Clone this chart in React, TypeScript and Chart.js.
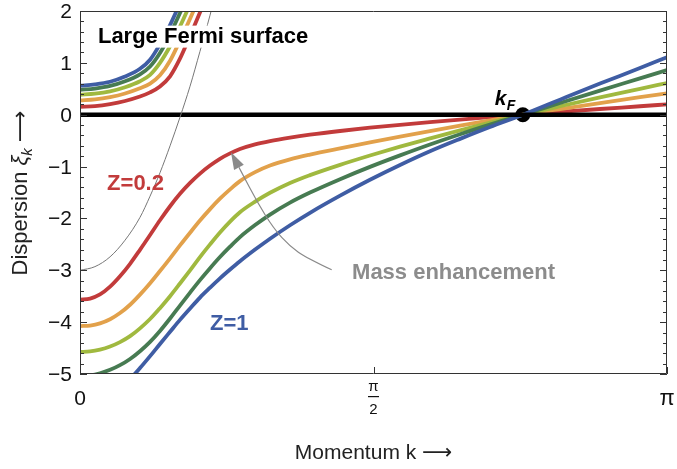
import React, { useEffect, useRef } from 'react';
import { Chart, registerables } from 'chart.js';

Chart.register(...registerables);

const PI = Math.PI;
const FONT = '"Liberation Sans", Arial, "DejaVu Sans", sans-serif';

// ---- data (k in radians) ----
const lowerK = [0, 0.054, 0.107, 0.161, 0.214, 0.268, 0.321, 0.375, 0.428, 0.482, 0.535, 0.589, 0.642, 0.696, 0.749, 0.803, 0.856, 0.937, 1.017, 1.124, 1.231, 1.392, 1.552, 1.713, 1.873, 2.034, 2.194, 2.371, 2.569, 2.783, 2.997, 3.1416];
const lowerZ02 = [-3.565, -3.545, -3.465, -3.315, -3.115, -2.875, -2.605, -2.32, -2.035, -1.765, -1.525, -1.315, -1.135, -0.98, -0.85, -0.745, -0.662, -0.572, -0.508, -0.442, -0.386, -0.314, -0.251, -0.194, -0.141, -0.093, -0.048, 0, 0.054, 0.11, 0.163, 0.2];
const lowerZ04 = [-4.075, -4.065, -4.025, -3.945, -3.825, -3.665, -3.47, -3.25, -3.015, -2.77, -2.52, -2.275, -2.04, -1.82, -1.62, -1.44, -1.28, -1.107, -0.98, -0.86, -0.768, -0.648, -0.534, -0.423, -0.315, -0.21, -0.108, 0, 0.11, 0.225, 0.338, 0.413];
const lowerZ06 = [-4.575, -4.565, -4.53, -4.47, -4.385, -4.27, -4.12, -3.94, -3.73, -3.5, -3.255, -3.0, -2.745, -2.5, -2.27, -2.06, -1.88, -1.677, -1.505, -1.315, -1.165, -0.967, -0.787, -0.616, -0.457, -0.301, -0.154, 0, 0.163, 0.335, 0.5, 0.61];
const lowerZ08 = [-5.04, -5.025, -4.985, -4.92, -4.83, -4.71, -4.56, -4.38, -4.17, -3.93, -3.68, -3.43, -3.19, -2.96, -2.745, -2.545, -2.36, -2.128, -1.925, -1.695, -1.501, -1.243, -1.006, -0.784, -0.574, -0.376, -0.19, 0, 0.225, 0.465, 0.7, 0.86];
const lowerZ10 = [-5.596, -5.576, -5.516, -5.416, -5.276, -5.096, -4.886, -4.656, -4.421, -4.186, -3.956, -3.736, -3.526, -3.336, -3.156, -2.986, -2.826, -2.601, -2.391, -2.131, -1.891, -1.561, -1.255, -0.97, -0.706, -0.466, -0.238, 0, 0.29, 0.6, 0.9, 1.11];

const upperK = [0, 0.08, 0.161, 0.241, 0.321, 0.375, 0.428, 0.482, 0.535, 0.589, 0.642, 0.696];
const upperZ02 = [0.15, 0.165, 0.205, 0.265, 0.35, 0.43, 0.545, 0.74, 1.08, 1.52, 1.97, 2.45];
const upperZ04 = [0.275, 0.295, 0.34, 0.41, 0.51, 0.6, 0.76, 1.04, 1.43, 1.85, 2.3, 2.75];
const upperZ06 = [0.385, 0.405, 0.45, 0.53, 0.645, 0.77, 1.0, 1.32, 1.7, 2.13, 2.58, 3.05];
const upperZ08 = [0.48, 0.505, 0.555, 0.645, 0.78, 0.93, 1.19, 1.55, 1.96, 2.4, 2.86, 3.33];
const upperZ10 = [0.56, 0.585, 0.635, 0.735, 0.885, 1.06, 1.36, 1.73, 2.15, 2.6, 3.07, 3.55];

const bareK = [0, 0.08, 0.161, 0.241, 0.321, 0.375, 0.428, 0.482, 0.535, 0.589, 0.642, 0.696, 0.723];
const bareE = [-3.0, -2.93, -2.74, -2.42, -1.98, -1.57, -1.12, -0.6, -0.05, 0.55, 1.22, 1.92, 2.3];

const kF = 2.37;

const arrowK = [1.347, 1.213, 1.124, 1.035, 0.946, 0.872, 0.808];
const arrowY = [-2.99, -2.76, -2.54, -2.19, -1.67, -1.16, -0.725];

const yTicks = [-5, -4, -3, -2, -1, 0, 1, 2];
const xTickValues = [0, PI / 2, PI];

const COLORS = ['#C23B3B', '#E2A14B', '#A0B93F', '#477B52', '#3F5DA4'];
const lowerSeries = [lowerZ02, lowerZ04, lowerZ06, lowerZ08, lowerZ10];
const upperSeries = [upperZ02, upperZ04, upperZ06, upperZ08, upperZ10];

const labels = [
  { text: 'Large Fermi surface', k: 0.096, y: 1.39, color: '#000', box: true },
  { text: 'Z=0.2', k: 0.145, y: -1.46, color: COLORS[0], box: false },
  { text: 'Z=1', k: 0.696, y: -4.15, color: COLORS[4], box: false },
  { text: 'Mass enhancement', k: 1.456, y: -3.17, color: '#8c8c8c', box: false },
];

const pts = (ks: number[], ys: number[]) => ks.map((k, i) => ({ x: k, y: ys[i] }));

const overlay = {
  id: 'overlay',
  afterDraw(chart: any) {
    const ctx: CanvasRenderingContext2D = chart.ctx;
    const xs = chart.scales.x;
    const ys = chart.scales.y;
    const { left, right, top, bottom } = chart.chartArea;
    ctx.save();

    // arrow
    const ap = arrowK.map((k, i) => [xs.getPixelForValue(k), ys.getPixelForValue(arrowY[i])]);
    const tip = ap[ap.length - 1];
    const prev = ap[ap.length - 2];
    const ang = Math.atan2(tip[1] - prev[1], tip[0] - prev[0]);
    const hl = 17, hw = 5.5;
    const base = [tip[0] - hl * Math.cos(ang), tip[1] - hl * Math.sin(ang)];
    const path = [...ap.slice(0, -1), base];
    ctx.strokeStyle = '#8a8a8a';
    ctx.lineWidth = 1.2;
    ctx.beginPath();
    ctx.moveTo(path[0][0], path[0][1]);
    for (let i = 1; i < path.length - 1; i++) {
      const mx = (path[i][0] + path[i + 1][0]) / 2;
      const my = (path[i][1] + path[i + 1][1]) / 2;
      ctx.quadraticCurveTo(path[i][0], path[i][1], mx, my);
    }
    ctx.lineTo(base[0], base[1]);
    ctx.stroke();
    ctx.fillStyle = '#8a8a8a';
    ctx.beginPath();
    ctx.moveTo(tip[0], tip[1]);
    ctx.lineTo(base[0] + hw * Math.sin(ang), base[1] - hw * Math.cos(ang));
    ctx.lineTo(base[0] - hw * Math.sin(ang), base[1] + hw * Math.cos(ang));
    ctx.closePath();
    ctx.fill();

    // labels
    ctx.textBaseline = 'alphabetic';
    ctx.textAlign = 'left';
    ctx.font = 'bold 22px ' + FONT;
    for (const l of labels) {
      const lx = xs.getPixelForValue(l.k);
      const ly = ys.getPixelForValue(l.y);
      if (l.box) {
        const w = ctx.measureText(l.text).width;
        ctx.fillStyle = '#fff';
        ctx.fillRect(lx - 2, ly - 17, w + 4, 22);
      }
      ctx.fillStyle = l.color;
      ctx.fillText(l.text, lx, ly);
    }
    // k_F
    const kx = xs.getPixelForValue(kF);
    const ky = ys.getPixelForValue(0);
    ctx.fillStyle = '#000';
    ctx.font = 'italic bold 21px ' + FONT;
    ctx.fillText('k', kx - 28, ky - 10);
    ctx.font = 'italic bold 14px ' + FONT;
    ctx.fillText('F', kx - 16, ky - 5);

    // frame
    ctx.strokeStyle = '#333';
    ctx.lineWidth = 1;
    ctx.beginPath();
    ctx.rect(left + 0.5, top + 0.5, right - left - 1, bottom - top - 1);
    ctx.stroke();
    // ticks
    ctx.beginPath();
    for (let i = -25; i <= 10; i++) {
      const v = i / 5;
      const py = Math.round(ys.getPixelForValue(v)) + 0.5;
      const len = i % 5 === 0 ? 7 : 4;
      ctx.moveTo(left, py);
      ctx.lineTo(left + len, py);
      ctx.moveTo(right, py);
      ctx.lineTo(right - len, py);
    }
    for (const v of xTickValues) {
      const px = Math.round(xs.getPixelForValue(v)) + 0.5;
      ctx.moveTo(px, bottom);
      ctx.lineTo(px, bottom - 7);
    }
    ctx.stroke();

    // y tick labels
    ctx.fillStyle = '#111';
    ctx.font = '21px ' + FONT;
    ctx.textAlign = 'right';
    for (const v of yTicks) {
      const t = v < 0 ? '\u2212' + Math.abs(v) : String(v);
      ctx.fillText(t, left - 8, ys.getPixelForValue(v) + 7);
    }
    // x tick labels
    ctx.textAlign = 'center';
    ctx.font = '21px ' + FONT;
    ctx.fillText('0', xs.getPixelForValue(0), bottom + 31);
    ctx.font = '22px ' + FONT;
    ctx.fillText('\u03C0', xs.getPixelForValue(PI), bottom + 31);
    const hx = xs.getPixelForValue(PI / 2);
    ctx.font = '15px ' + FONT;
    ctx.fillText('\u03C0', hx, bottom + 17);
    ctx.fillText('2', hx, bottom + 40);
    ctx.fillRect(hx - 5.5, bottom + 22, 11, 1.2);

    // axis titles
    ctx.fillStyle = '#222';
    ctx.textAlign = 'left';
    const xParts = [{ t: 'Momentum k ', f: '21px ' + FONT, dy: 0 }, { t: '\u27F6', f: '21px ' + FONT, dy: 0 }];
    let tw = 0;
    for (const p of xParts) { ctx.font = p.f; tw += ctx.measureText(p.t).width; }
    let cx = (left + right) / 2 - tw / 2;
    for (const p of xParts) { ctx.font = p.f; ctx.fillText(p.t, cx, 459 + p.dy); cx += ctx.measureText(p.t).width; }

    const yParts = [
      { t: 'Dispersion ', f: '22px ' + FONT, dy: 0 },
      { t: '\u03BE', f: 'italic 22px ' + FONT, dy: 0 },
      { t: 'k', f: 'italic 15px ' + FONT, dy: 5 },
      { t: ' \u27F6', f: '22px ' + FONT, dy: 0 },
    ];
    ctx.translate(27, 193);
    ctx.rotate(-Math.PI / 2);
    tw = 0;
    for (const p of yParts) { ctx.font = p.f; tw += ctx.measureText(p.t).width; }
    cx = -tw / 2;
    for (const p of yParts) { ctx.font = p.f; ctx.fillText(p.t, cx, p.dy); cx += ctx.measureText(p.t).width; }

    ctx.restore();
  },
};

export default function App() {
  const ref = useRef<HTMLCanvasElement>(null);
  useEffect(() => {
    const curve = (data: any[], color: string, width: number) => ({
      data,
      borderColor: color,
      backgroundColor: color,
      borderWidth: width,
      pointRadius: 0,
      fill: false,
      cubicInterpolationMode: 'monotone' as const,
      clip: 0,
    });
    const datasets: any[] = [];
    datasets.push(curve(pts(bareK, bareE), '#777', 1));
    datasets.push(curve([{ x: 0, y: 0 }, { x: PI, y: 0 }], '#000', 4.5));
    for (let i = lowerSeries.length - 1; i >= 0; i--) {
      datasets.push(curve(pts(lowerK, lowerSeries[i]), COLORS[i], 3.8));
      datasets.push(curve(pts(upperK, upperSeries[i]), COLORS[i], 3.8));
    }
    datasets.push({
      data: [{ x: kF, y: 0 }],
      showLine: false,
      pointRadius: 7.5,
      pointBackgroundColor: '#000',
      pointBorderWidth: 0,
      borderColor: '#000',
    });
    const chart = new Chart(ref.current!, {
      type: 'line',
      data: { datasets },
      options: {
        animation: false,
        responsive: false,
        devicePixelRatio: 1,
        events: [],
        layout: { padding: { left: 80, right: 10, top: 11, bottom: 95 } },
        plugins: { legend: { display: false }, tooltip: { enabled: false } },
        scales: {
          x: { type: 'linear', min: 0, max: PI, display: false },
          y: { type: 'linear', min: -5, max: 2, display: false },
        },
      },
      plugins: [overlay],
    });
    return () => chart.destroy();
  }, []);
  return (
    <div style={{ position: 'fixed', left: 0, top: 0, width: 677, height: 469, background: '#fff' }}>
      <canvas ref={ref} width={677} height={469} style={{ display: 'block', width: 677, height: 469 }} />
    </div>
  );
}
